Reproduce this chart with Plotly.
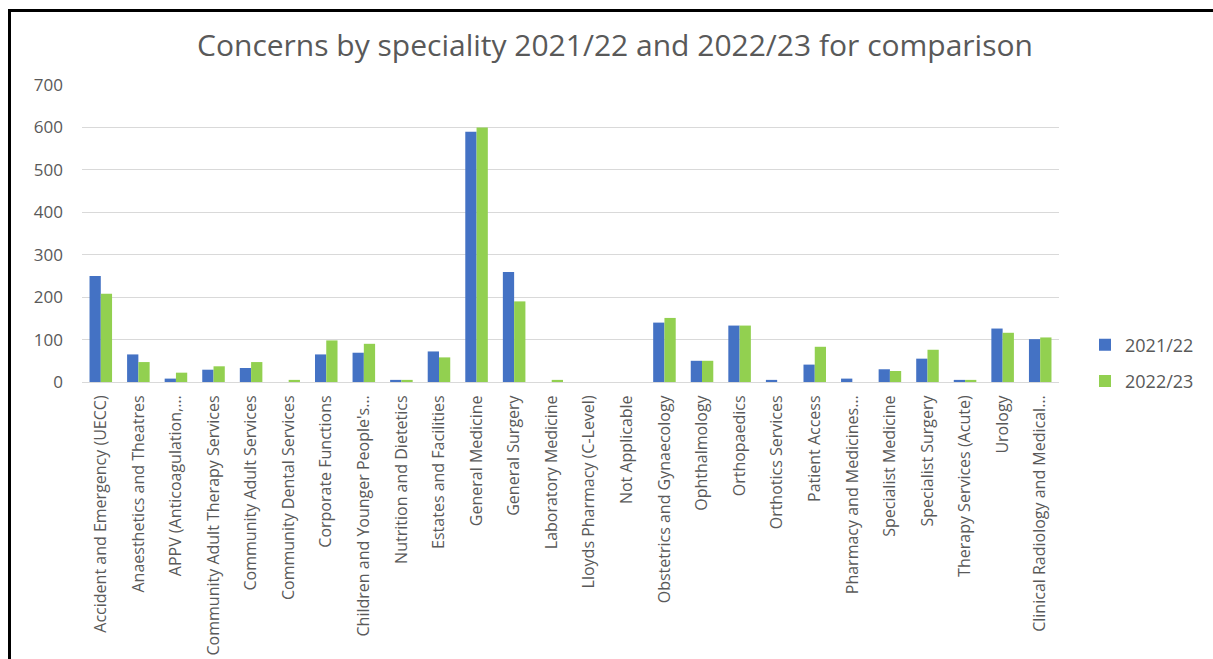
import plotly.graph_objects as go

# Specialities in display order (long names shortened with an ellipsis, as on the axis)
categories = [
    "Accident and Emergency (UECC)",
    "Anaesthetics and Theatres",
    "APPV (Anticoagulation,…",
    "Community Adult Therapy Services",
    "Community Adult Services",
    "Community Dental Services",
    "Corporate Functions",
    "Children and Younger People's…",
    "Nutrition and Dietetics",
    "Estates and Facilities",
    "General Medicine",
    "General Surgery",
    "Laboratory Medicine",
    "Lloyds Pharmacy (C-Level)",
    "Not Applicable",
    "Obstetrics and Gynaecology",
    "Ophthalmology",
    "Orthopaedics",
    "Orthotics Services",
    "Patient Access",
    "Pharmacy and Medicines…",
    "Specialist Medicine",
    "Specialist Surgery",
    "Therapy Services (Acute)",
    "Urology",
    "Clinical Radiology and Medical…",
]

concerns_2021_22 = [250, 65, 8, 29, 33, 0, 65, 69, 5, 72, 590, 259, 0, 0, 0,
                    140, 50, 133, 5, 41, 8, 30, 55, 5, 126, 101]
concerns_2022_23 = [208, 47, 22, 37, 47, 5, 98, 90, 5, 58, 600, 190, 5, 0, 0,
                    151, 50, 133, 0, 83, 0, 26, 76, 5, 116, 105]

series_names = ["2021/22", "2022/23"]
y_ticks = [0, 100, 200, 300, 400, 500, 600, 700]

W, H = 1213, 659
L, R, T, B = 82, 154, 85, 277
FONT = "Open Sans"
GREY = "#595959"

fig = go.Figure()
fig.add_trace(go.Bar(x=categories, y=concerns_2021_22, name=series_names[0],
                     legendgroup="a",
                     marker=dict(color="#4472C4", line=dict(width=0))))
fig.add_trace(go.Bar(x=categories, y=concerns_2022_23, name=series_names[1],
                     legendgroup="b",
                     marker=dict(color="#92D050", line=dict(width=0))))

plot_w = W - L - R
plot_h = H - T - B


def px_to_paper_x(px):
    return (px - L) / plot_w


def px_to_paper_y(py):
    return (H - B - py) / plot_h


# Frame lines along the top and left edges of the image
fig.add_shape(type="line", xref="paper", yref="paper",
              x0=px_to_paper_x(9.5), x1=px_to_paper_x(9.5),
              y0=px_to_paper_y(10.5), y1=px_to_paper_y(H + 10),
              line=dict(color="black", width=3))
fig.add_shape(type="line", xref="paper", yref="paper",
              x0=px_to_paper_x(8), x1=px_to_paper_x(W + 10),
              y0=px_to_paper_y(10.5), y1=px_to_paper_y(10.5),
              line=dict(color="black", width=3))

fig.update_layout(
    width=W, height=H,
    margin=dict(l=L, r=R, t=T, b=B, autoexpand=False),
    paper_bgcolor="white", plot_bgcolor="white",
    font=dict(family=FONT, color=GREY, size=16),
    title=dict(text="Concerns by speciality 2021/22 and 2022/23 for comparison",
               x=615 / W, xanchor="center", xref="container",
               y=1 - 45 / H, yanchor="middle", yref="container",
               font=dict(family=FONT, size=30, color=GREY)),
    barmode="group", bargap=0.40, bargroupgap=0.0,
    showlegend=True,
    legend=dict(x=px_to_paper_x(1085), xanchor="left",
                y=px_to_paper_y(363), yanchor="middle",
                font=dict(family=FONT, size=18, color=GREY),
                bgcolor="rgba(0,0,0,0)", tracegroupgap=10,
                itemwidth=30, itemclick=False),
    xaxis=dict(tickangle=-90, tickfont=dict(family=FONT, size=16, color=GREY),
               showgrid=False, showline=True, linecolor="#d9d9d9", linewidth=1,
               ticks="", ticklabelstandoff=6, fixedrange=True),
    yaxis=dict(range=[0, 700], tickvals=y_ticks,
               tickfont=dict(family=FONT, size=17, color=GREY),
               showgrid=True, gridcolor="#d9d9d9", gridwidth=1,
               zeroline=False, showline=False, ticks="",
               ticklabelstandoff=18, fixedrange=True),
)

fig.write_html("out.html")
